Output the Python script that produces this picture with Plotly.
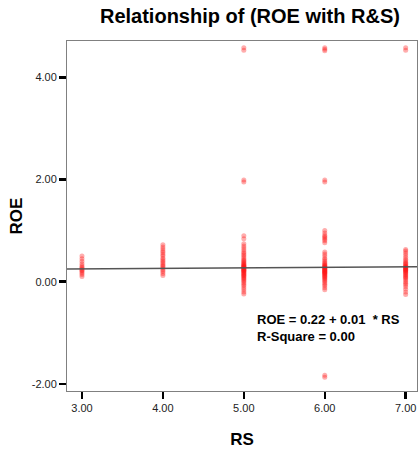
import plotly.graph_objects as go

title_text = "Relationship of (ROE with R&S)"
x_title = "RS"
y_title = "ROE"

rs_levels = [3, 4, 5, 6, 7]
roe_rs3 = [0.10, 0.14, 0.17, 0.20, 0.22, 0.24, 0.26, 0.28, 0.31, 0.35, 0.40, 0.45, 0.50]
roe_rs4 = [0.12, 0.16, 0.20, 0.23, 0.26, 0.29, 0.31, 0.34, 0.37, 0.40, 0.43, 0.46,
           0.50, 0.53, 0.57, 0.60, 0.64, 0.68, 0.72]
roe_rs5 = [-0.24, -0.20, -0.16, -0.12, -0.08, -0.05, -0.02, 0.01, 0.03, 0.05, 0.07, 0.09,
           0.11, 0.12, 0.14, 0.15, 0.17, 0.18, 0.20, 0.21, 0.22, 0.23, 0.24, 0.25, 0.26,
           0.27, 0.28, 0.29, 0.30, 0.31, 0.32, 0.34, 0.35, 0.37, 0.39, 0.41, 0.43, 0.46,
           0.49, 0.52, 0.55, 0.58, 0.62, 0.66, 0.70, 0.74, 0.84, 0.90, 1.95, 1.99, 4.53, 4.58]
roe_rs6 = [-1.87, -1.83, -0.16, -0.12, -0.08, -0.05, -0.02, 0.01, 0.03, 0.05, 0.07, 0.09,
           0.10, 0.12, 0.13, 0.15, 0.16, 0.17, 0.18, 0.19, 0.20, 0.21, 0.22, 0.23, 0.24,
           0.25, 0.26, 0.27, 0.28, 0.29, 0.30, 0.32, 0.33, 0.35, 0.37, 0.40, 0.43, 0.46,
           0.50, 0.54, 0.58, 0.76, 0.80, 0.83, 0.86, 0.88, 0.91, 0.95, 1.00, 1.95, 1.99,
           4.52, 4.55, 4.58]
roe_rs7 = [-0.25, -0.20, -0.15, -0.10, -0.06, -0.03, 0.00, 0.03, 0.06, 0.08, 0.10, 0.12,
           0.14, 0.16, 0.18, 0.19, 0.21, 0.22, 0.23, 0.24, 0.25, 0.26, 0.27, 0.28, 0.29,
           0.30, 0.32, 0.34, 0.36, 0.38, 0.41, 0.44, 0.48, 0.52, 0.56, 0.60, 0.63, 4.53, 4.58]

fit_intercept = 0.22
fit_slope = 0.01
x_range = [2.815, 7.14]
y_range = [-2.14, 4.71]
x_ticks = [3, 4, 5, 6, 7]
x_tick_labels = ["3.00", "4.00", "5.00", "6.00", "7.00"]
y_ticks = [-2, 0, 2, 4]
y_tick_labels = ["-2.00", "0.00", "2.00", "4.00"]
eq_lines = ["ROE = 0.22 + 0.01  * RS", "R-Square = 0.00"]

font_family = "Liberation Sans, Arial, sans-serif"

xs, ys = [], []
for lvl, vals in zip(rs_levels, [roe_rs3, roe_rs4, roe_rs5, roe_rs6, roe_rs7]):
    xs += [lvl] * len(vals)
    ys += vals

fig = go.Figure()
fig.add_trace(go.Scatter(
    x=xs, y=ys, mode="markers", cliponaxis=False,
    marker=dict(size=5, color="rgba(255,20,20,0.35)", line=dict(width=0)),
    hoverinfo="skip", showlegend=False))

fit_x = x_range
fit_y = [fit_intercept + fit_slope * v for v in fit_x]
fig.add_trace(go.Scatter(
    x=fit_x, y=fit_y, mode="lines",
    line=dict(color="#555555", width=1.5),
    hoverinfo="skip", showlegend=False))

fig.add_annotation(
    x=5.136, y=-0.90, xref="x", yref="y", xanchor="left", yanchor="middle",
    text="<br>".join(f"<b>{t}</b>" for t in eq_lines), align="left", showarrow=False,
    font=dict(family=font_family, size=13, color="black"))

fig.update_layout(
    width=418, height=453,
    margin=dict(l=67, r=1, t=41, b=62),
    paper_bgcolor="white", plot_bgcolor="white",
    font=dict(family=font_family),
    title=dict(text=f"<b>{title_text}</b>", x=0.598, xanchor="center", y=0.965, yanchor="middle",
               font=dict(family=font_family, size=20, color="black")),
    xaxis=dict(range=x_range, tickvals=x_ticks, ticktext=x_tick_labels,
               showgrid=False, zeroline=False, automargin=False,
               showline=True, linecolor="#808080", linewidth=1, mirror=True,
               ticks="outside", ticklen=7, tickwidth=2.5, tickcolor="black",
               tickfont=dict(family=font_family, size=11, color="#222222"),
               title=dict(text=f"<b>{x_title}</b>", standoff=19,
                          font=dict(family=font_family, size=17, color="black"))),
    yaxis=dict(range=y_range, tickvals=y_ticks, ticktext=y_tick_labels,
               showgrid=False, zeroline=False, automargin=False,
               showline=True, linecolor="#808080", linewidth=1, mirror=True,
               ticks="outside", ticklen=7, tickwidth=2.5, tickcolor="black",
               tickfont=dict(family=font_family, size=11, color="#222222"),
               title=dict(text=f"<b>{y_title}</b>", standoff=4,
                          font=dict(family=font_family, size=17, color="black"))),
)

fig.write_html("out.html", config={"displayModeBar": False, "staticPlot": True},
               post_script="document.body.style.margin='0';document.body.style.overflow='hidden';")
